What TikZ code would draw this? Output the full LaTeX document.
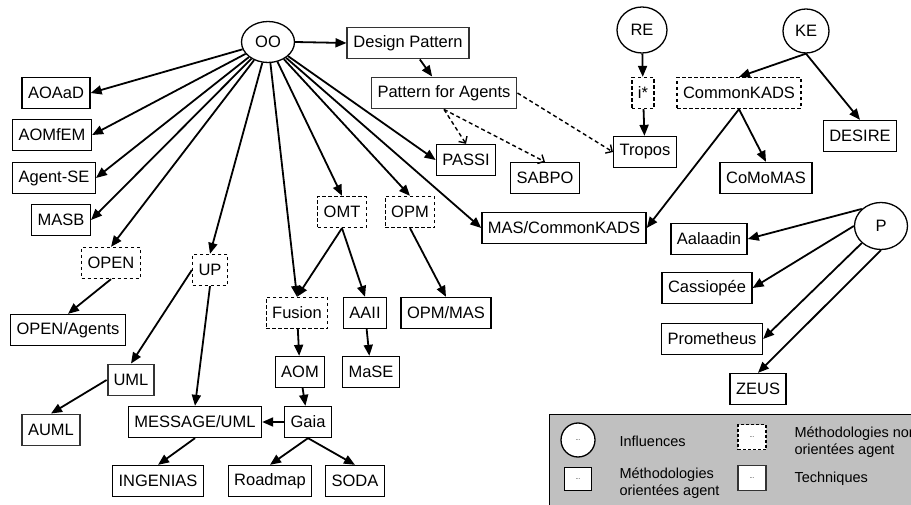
\documentclass[tikz,border=0pt]{standalone}
\usepackage{fontspec}
\setmainfont{Liberation Sans}
\usetikzlibrary{arrows.meta,shapes.geometric}
\definecolor{legendgray}{RGB}{192,192,192}

\begin{document}
\begin{tikzpicture}[x=1pt, y=-1pt,
	agent/.style={draw, fill=white, line width=1.3pt, font=\fontsize{16.5}{18}\selectfont, inner xsep=6pt, inner ysep=0pt, minimum height=31pt},
	nonagent/.style={agent, dash pattern=on 3.5pt off 2.5pt},
	technique/.style={agent, draw=black!80, line width=1.9pt},
	influence/.style={draw, ellipse, line width=1.3pt, font=\fontsize{16.5}{18}\selectfont, inner sep=0pt},
	arr/.style={-{Triangle[length=11pt,width=9pt]}, line width=1.8pt},
	darr/.style={-{Straight Barb[length=5pt,width=10pt]}, line width=1.4pt, dash pattern=on 4pt off 3pt},
	legendtext/.style={font=\fontsize{14.5}{17}\selectfont, align=left, anchor=west},
	dots/.style={font=\fontsize{6}{6}\selectfont, inner sep=0pt}]
	\useasboundingbox (0,0) rectangle (911,505);
	% influences
	\node[influence, minimum width=53pt, minimum height=41pt] (OO) at (268,42) {OO};
	\node[influence, minimum width=50pt, minimum height=46pt] (RE) at (642,30) {RE};
	\node[influence, minimum width=46pt, minimum height=44pt] (KE) at (806,31) {KE};
	\node[influence, minimum width=53pt, minimum height=47pt] (P) at (881,226) {P};
	% techniques
	\node[technique] (DP) at (408,43) {Design Pattern};
	\node[technique] (PfA) at (444,93) {Pattern for Agents};
	\node[technique] (UML) at (131,380) {UML};
	\node[technique] (AUML) at (51,430) {AUML};
	% non agent methodologies
	\node[nonagent] (OPEN) at (111,263) {OPEN};
	\node[nonagent] (UP) at (210,270) {UP};
	\node[nonagent] (OMT) at (342,212) {OMT};
	\node[nonagent] (OPM) at (410,212) {OPM};
	\node[nonagent] (Fusion) at (297,313) {Fusion};
	\node[nonagent] (istar) at (643,93) {i*};
	\node[nonagent] (CK) at (739,93) {CommonKADS};
	% agent methodologies
	\node[agent] (AOAaD) at (56,93) {AOAaD};
	\node[agent] (AOMfEM) at (52,135) {AOMfEM};
	\node[agent] (AgentSE) at (54,178) {Agent-SE};
	\node[agent] (MASB) at (61,220) {MASB};
	\node[agent] (OPENAgents) at (68,330) {OPEN/Agents};
	\node[agent] (PASSI) at (466,160) {PASSI};
	\node[agent] (SABPO) at (545,178) {SABPO};
	\node[agent] (MASCK) at (564,228) {MAS/CommonKADS};
	\node[agent] (AAII) at (365,313) {AAII};
	\node[agent] (OPMMAS) at (446,313) {OPM/MAS};
	\node[agent] (AOM) at (300,372) {AOM};
	\node[agent] (MaSE) at (371,372) {MaSE};
	\node[agent] (MESSAGE) at (195,422) {MESSAGE/UML};
	\node[agent] (Gaia) at (308,422) {Gaia};
	\node[agent] (INGENIAS) at (158,481) {INGENIAS};
	\node[agent] (Roadmap) at (270,481) {Roadmap};
	\node[agent] (SODA) at (355,481) {SODA};
	\node[agent] (Tropos) at (645,152) {Tropos};
	\node[agent] (DESIRE) at (860,136) {DESIRE};
	\node[agent] (CoMoMAS) at (766,178) {CoMoMAS};
	\node[agent] (Aalaadin) at (709,239) {Aalaadin};
	\node[agent] (Cassiopee) at (707,288) {Cassiopée};
	\node[agent] (Prometheus) at (712,339) {Prometheus};
	\node[agent] (ZEUS) at (758,389) {ZEUS};
	% links
	\draw[arr] (OO.east) -- (DP.west);
	\draw[arr] (OO) -- (AOAaD.east);
	\draw[arr] (OO) -- (AOMfEM.east);
	\draw[arr] (OO) -- (AgentSE.east);
	\draw[arr] (OO) -- (MASB.east);
	\draw[arr] (OO) -- (OPEN.north);
	\draw[arr] (OO) -- (UP.north);
	\draw[arr] (OO) -- (Fusion.north);
	\draw[arr] (OO) -- (OMT.north);
	\draw[arr] (OO) -- (OPM.north);
	\draw[arr] (OO) -- (PASSI.west);
	\draw[arr] (OO) -- (MASCK.west);
	\draw[arr] (DP) -- (PfA);
	\draw[darr] (PfA.south) -- (PASSI.north);
	\draw[darr] (PfA.south) -- (SABPO.north);
	\draw[darr] (PfA.east) -- (Tropos.west);
	\draw[arr] (OPEN.south) -- (OPENAgents.north);
	\draw[arr] (UP.west) -- (UML.north);
	\draw[arr] (UP.south) -- (MESSAGE.north);
	\draw[arr] (UML.west) -- (AUML.north);
	\draw[arr] (OMT.south) -- (Fusion.north);
	\draw[arr] (OMT.south) -- (AAII.north);
	\draw[arr] (OPM.south) -- (OPMMAS.north);
	\draw[arr] (Fusion) -- (AOM);
	\draw[arr] (AAII) -- (MaSE);
	\draw[arr] (AOM) -- (Gaia);
	\draw[arr] (Gaia) -- (MESSAGE);
	\draw[arr] (MESSAGE.south) -- (INGENIAS.north);
	\draw[arr] (Gaia.south) -- (Roadmap.north);
	\draw[arr] (Gaia.south) -- (SODA.north);
	\draw[arr] (RE) -- (istar);
	\draw[arr] (istar) -- (Tropos);
	\draw[arr] (KE.south) -- (CK.north);
	\draw[arr] (KE.south) -- (DESIRE.north);
	\draw[arr] (CK.south) -- (CoMoMAS.north);
	\draw[arr] (CK.south) -- (MASCK.east);
	\draw[arr] (P.north west) -- (Aalaadin.east);
	\draw[arr] (P.west) -- (Cassiopee.east);
	\draw[arr] (P.south west) -- (Prometheus.east);
	\draw[arr] (P.south) -- (ZEUS.north);
	% legend
	\draw[fill=legendgray, line width=0.8pt] (549,414) rectangle (920,515);
	\node[draw, circle, fill=white, line width=1.3pt, minimum size=34pt, dots] (lgInf) at (578,440) {...};
	\node[legendtext] (lgInfText) at (616,441) {Influences};
	\node[draw, fill=white, line width=1pt, minimum width=27pt, minimum height=23pt, dots] (lgAgent) at (578,479) {...};
	\node[legendtext] (lgAgentText) at (616,483) {Méthodologies\\orientées agent};
	\node[draw, fill=white, line width=1.3pt, dash pattern=on 3pt off 2pt, minimum width=28pt, minimum height=25pt, dots] (lgNon) at (752,437) {...};
	\node[legendtext] (lgNonText) at (791,442) {Méthodologies non\\orientées agent};
	\node[draw=black!80, fill=white, line width=1.8pt, minimum width=28pt, minimum height=25pt, dots] (lgTech) at (752,478) {...};
	\node[legendtext] (lgTechText) at (791,479) {Techniques};
\end{tikzpicture}
\end{document}
